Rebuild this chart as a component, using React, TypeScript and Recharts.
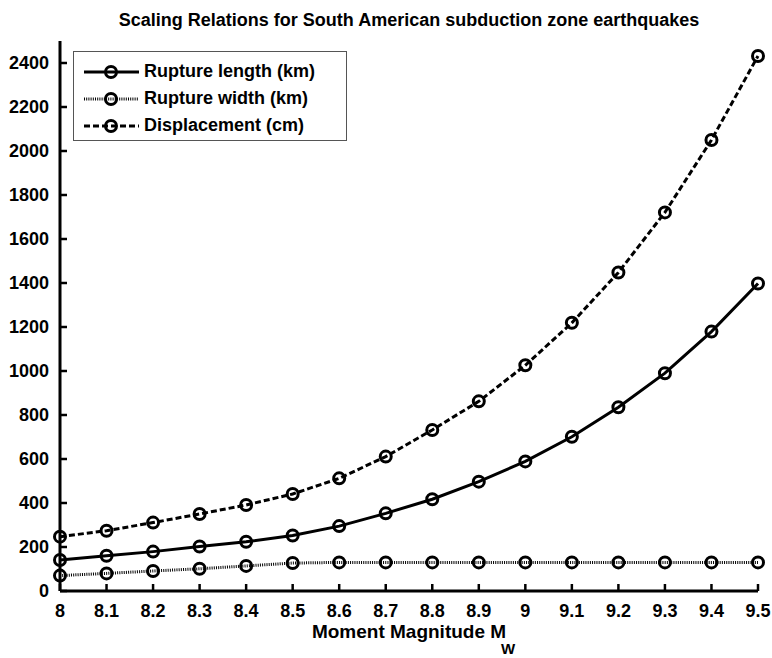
import { LineChart, Line, XAxis, YAxis, Legend } from "recharts";

const magnitudes = [8, 8.1, 8.2, 8.3, 8.4, 8.5, 8.6, 8.7, 8.8, 8.9, 9, 9.1, 9.2, 9.3, 9.4, 9.5];
const ruptureLength = [141, 160, 179, 202, 224, 252, 295, 353, 417, 497, 589, 701, 835, 990, 1179, 1398];
const ruptureWidth = [70, 80, 91, 101, 114, 127, 130, 130, 130, 130, 130, 130, 130, 130, 130, 130];
const displacement = [247, 274, 311, 350, 391, 441, 512, 611, 732, 862, 1026, 1219, 1448, 1721, 2050, 2432];

const xTicks = [8, 8.1, 8.2, 8.3, 8.4, 8.5, 8.6, 8.7, 8.8, 8.9, 9, 9.1, 9.2, 9.3, 9.4, 9.5];
const yTicks = [0, 200, 400, 600, 800, 1000, 1200, 1400, 1600, 1800, 2000, 2200, 2400];

const data = magnitudes.map((m, i) => ({
  mw: m,
  length: ruptureLength[i],
  width: ruptureWidth[i],
  disp: displacement[i],
}));

const FONT = '"Liberation Sans", Arial, sans-serif';
const TICK = 7;

// ticks point inward, matlab style
const BottomTick = ({ x, y, payload }: any) => (
  <g>
    <line x1={x} y1={y} x2={x} y2={y - TICK} stroke="#000" strokeWidth={2.5} />
    <text x={x} y={y + 26} textAnchor="middle" fontFamily={FONT} fontWeight="bold" fontSize={18} fill="#000">
      {Number(payload.value.toFixed(1)).toString()}
    </text>
  </g>
);

const TopTick = ({ x, y }: any) => (
  <line x1={x} y1={y} x2={x} y2={y + TICK} stroke="#000" strokeWidth={2.5} />
);

const LeftTick = ({ x, y, payload }: any) => (
  <g>
    <line x1={x} y1={y} x2={x + TICK} y2={y} stroke="#000" strokeWidth={2.5} />
    <text x={x - 11} y={y} dy="0.35em" textAnchor="end" fontFamily={FONT} fontWeight="bold" fontSize={18} fill="#000">
      {payload.value}
    </text>
  </g>
);

const RightTick = ({ x, y }: any) => (
  <line x1={x} y1={y} x2={x - TICK} y2={y} stroke="#000" strokeWidth={2.5} />
);

const Marker = (props: any) => {
  const { cx, cy } = props;
  return <circle cx={cx} cy={cy} r={5.5} fill="none" stroke="#000" strokeWidth={3} />;
};

const series = [
  { key: "length", name: "Rupture length (km)", dash: undefined, width: 3 },
  { key: "width", name: "Rupture width (km)", dash: "1 1.2", width: 3 },
  { key: "disp", name: "Displacement (cm)", dash: "6 3", width: 3 },
];

const LegendBox = () => (
  <div
    style={{
      border: "1px solid #555",
      background: "#fff",
      width: 274,
      height: 90,
      boxSizing: "border-box",
      paddingTop: 6,
    }}
  >
    {series.map((s) => (
      <div key={s.key} style={{ display: "flex", alignItems: "center", height: 27 }}>
        <svg width={70} height={20} style={{ flex: "none" }}>
          <line x1={10} y1={10} x2={65} y2={10} stroke="#000" strokeWidth={s.width} strokeDasharray={s.dash} />
          <circle cx={37} cy={10} r={5.5} fill="none" stroke="#000" strokeWidth={3} />
        </svg>
        <span style={{ fontFamily: FONT, fontWeight: "bold", fontSize: 18, color: "#000" }}>{s.name}</span>
      </div>
    ))}
  </div>
);

export default function App() {
  return (
    <div style={{ position: "absolute", left: 0, top: 0, width: 772, height: 658, background: "#fff" }}>
      <div
        style={{
          position: "absolute",
          left: 60,
          width: 698,
          top: 9,
          textAlign: "center",
          fontFamily: FONT,
          fontWeight: "bold",
          fontSize: 18,
          lineHeight: "22px",
        }}
      >
        Scaling Relations for South American subduction zone earthquakes
      </div>
      <LineChart width={772} height={658} data={data} margin={{ top: 41, right: 14, left: 0, bottom: 0 }}>
        <XAxis
          dataKey="mw"
          type="number"
          domain={[8, 9.5]}
          ticks={xTicks}
          height={67}
          tickSize={0}
          tickMargin={0}
          tick={<BottomTick />}
          interval={0}
          axisLine={{ stroke: "#000", strokeWidth: 3 }}
        />
        <XAxis
          xAxisId="top"
          orientation="top"
          dataKey="mw"
          type="number"
          domain={[8, 9.5]}
          ticks={xTicks}
          height={0}
          tickSize={0}
          tickMargin={0}
          tick={<TopTick />}
          interval={0}
          axisLine={{ stroke: "#000", strokeWidth: 3 }}
        />
        <YAxis
          type="number"
          domain={[0, 2500]}
          ticks={yTicks}
          width={60}
          tickSize={0}
          tickMargin={0}
          tick={<LeftTick />}
          interval={0}
          axisLine={{ stroke: "#000", strokeWidth: 3 }}
        />
        <YAxis
          yAxisId="right"
          orientation="right"
          type="number"
          domain={[0, 2500]}
          ticks={yTicks}
          width={0}
          tickSize={0}
          tickMargin={0}
          tick={<RightTick />}
          interval={0}
          axisLine={{ stroke: "#000", strokeWidth: 3 }}
        />
        {series.map((s) => (
          <Line
            key={s.key}
            dataKey={s.key}
            name={s.name}
            type="linear"
            stroke="#000"
            strokeWidth={s.width}
            strokeDasharray={s.dash}
            dot={<Marker />}
            activeDot={false}
            isAnimationActive={false}
          />
        ))}
        <Legend
          layout="horizontal"
          verticalAlign="middle"
          align="center"
          content={<LegendBox />}
          wrapperStyle={{ left: 73, top: 51, width: 274, height: 90 }}
        />
      </LineChart>
      <div
        style={{
          position: "absolute",
          left: 60,
          width: 698,
          top: 621,
          textAlign: "center",
          fontFamily: FONT,
          fontWeight: "bold",
          fontSize: 19,
          lineHeight: "22px",
        }}
      >
        <span style={{ position: "relative", display: "inline-block" }}>
          Moment Magnitude M
          <span
            style={{ position: "absolute", left: "100%", marginLeft: -5, top: 20, fontSize: 15, lineHeight: "16px" }}
          >
            W
          </span>
        </span>
      </div>
    </div>
  );
}
